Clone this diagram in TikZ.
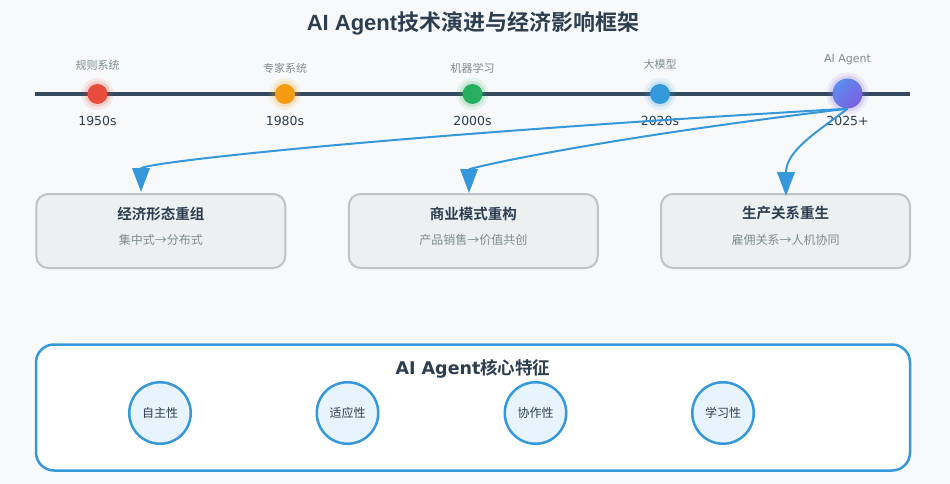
\documentclass[tikz,border=0pt]{standalone}
\usepackage{fontspec}
\setmainfont{DejaVu Sans}
\newfontfamily\cjk[BoldFont={Noto Sans CJK SC Bold}]{Noto Sans CJK SC}
\newfontfamily\titlelat{Liberation Sans}
\usetikzlibrary{arrows.meta}
\definecolor{bg}{HTML}{F8F9FA}
\definecolor{dark}{HTML}{2C3E50}
\definecolor{axis}{HTML}{34495E}
\definecolor{graytxt}{HTML}{7F8C8D}
\definecolor{boxfill}{HTML}{ECF0F1}
\definecolor{boxline}{HTML}{BDC3C7}
\definecolor{accent}{HTML}{3498DB}
\definecolor{featfill}{HTML}{E8F4FD}
\definecolor{cred}{HTML}{E74C3C}
\definecolor{corange}{HTML}{F39C12}
\definecolor{cgreen}{HTML}{27AE60}
\definecolor{cblue}{HTML}{3498DB}
\definecolor{agentA}{HTML}{5B8DEF}
\definecolor{agentB}{HTML}{7B5FE0}
\tikzset{
  toplabel/.style={text=graytxt, font=\cjk\fontsize{11}{13}\selectfont, inner sep=0pt},
  toplabellat/.style={text=graytxt, font=\fontsize{11}{13}\selectfont, inner sep=0pt},
  year/.style={text=dark, font=\fontsize{12.5}{15}\selectfont, inner sep=0pt},
  dot/.style={circle, minimum size=20pt, inner sep=0pt},
  stagebox/.style={draw=boxline, fill=boxfill, line width=2pt, rounded corners=12pt, minimum width=249pt, minimum height=74pt, inner sep=0pt},
  boxtitle/.style={text=dark, font=\cjk\bfseries\fontsize{14.5}{17}\selectfont, inner sep=0pt},
  boxsub/.style={text=graytxt, font=\cjk\fontsize{12}{14}\selectfont, inner sep=0pt},
  feat/.style={circle, draw=accent, fill=featfill, line width=2.5pt, minimum size=61.5pt, inner sep=0pt, text=dark, font=\cjk\fontsize{12}{14}\selectfont},
  flow/.style={draw=accent, line width=2pt, -{Triangle[width=17.5pt,length=24pt]}},
}
\begin{document}
\begin{tikzpicture}[x=1pt,y=-1pt]
\fill[bg] (0,0) rectangle (950,484);
\useasboundingbox (0,0) rectangle (950,484);

% title
\node[text=dark, inner sep=0pt] (title) at (473,23) {\fontsize{22}{26}\selectfont\bfseries\titlelat AI Agent\cjk 技术演进与经济影响框架};

% timeline
\coordinate (tl0) at (35,94);
\coordinate (tl1) at (910,94);
\draw[axis, line width=4pt] (tl0) -- (tl1);

% glows
\foreach \x/\c in {97.5/cred,285/corange,472.5/cgreen,660/cblue}{
  \fill[\c, opacity=.10] (\x,94) circle (16);
  \fill[\c, opacity=.15] (\x,94) circle (13);
}
\fill[agentB, opacity=.10] (847.5,93.5) circle (21);
\fill[agentB, opacity=.15] (847.5,93.5) circle (18);

% dots
\node[dot, fill=cred] (d1) at (97.5,94) {};
\node[dot, fill=corange] (d2) at (285,94) {};
\node[dot, fill=cgreen] (d3) at (472.5,94) {};
\node[dot, fill=cblue] (d4) at (660,94) {};
\node[dot, minimum size=30pt] (d5) at (847.5,93.5) {};
\shade[top color=agentA, bottom color=agentB, shading angle=45] (d5.center) circle (15);

% labels above
\node[toplabel] (l1) at (97.5,65) {规则系统};
\node[toplabel] (l2) at (285,68) {专家系统};
\node[toplabel] (l3) at (472.5,68) {机器学习};
\node[toplabel] (l4) at (660,64) {大模型};
\node[toplabellat] (l5) at (847.5,60) {AI Agent};

% years
\node[year] (y1) at (97.5,121) {1950s};
\node[year] (y2) at (285,121) {1980s};
\node[year] (y3) at (472.5,121) {2000s};
\node[year] (y4) at (660,121) {2020s};
\node[year] (y5) at (847.5,120.5) {2025+};

% stage boxes
\node[stagebox] (b1) at (160.75,231) {};
\node[stagebox] (b2) at (473.25,231) {};
\node[stagebox] (b3) at (785.5,231) {};
\node[boxtitle] (b1t) at (160.75,213.5) {经济形态重组};
\node[boxsub] (b1s) at (160.75,240) {集中式→分布式};
\node[boxtitle] (b2t) at (473.25,213.5) {商业模式重构};
\node[boxsub] (b2s) at (473.25,240) {产品销售→价值共创};
\node[boxtitle] (b3t) at (785.5,213.5) {生产关系重生};
\node[boxsub] (b3s) at (785.5,240) {雇佣关系→人机协同};

% arrow targets
\coordinate (t1) at (141,192);
\coordinate (t2) at (469,193);
\coordinate (t3) at (786,196);

% flows
\draw[flow] (d5.south) .. controls (376,136) and (141,163) .. (t1);
\draw[flow] (d5.south) .. controls (595,139) and (469,168) .. (t2);
\draw[flow] (d5.south) .. controls (820,130) and (786,150) .. (t3);

% features
\node[draw=accent, fill=white, line width=2.5pt, rounded corners=18pt, minimum width=874pt, minimum height=126pt, inner sep=0pt] (fbox) at (473,407.5) {};
\node[text=dark, inner sep=0pt] (ftitle) at (473,369) {\fontsize{17.5}{20}\selectfont\bfseries AI Agent\cjk 核心特征};
\node[feat] (f1) at (160,413) {自主性};
\node[feat] (f2) at (347.5,413) {适应性};
\node[feat] (f3) at (535.5,413) {协作性};
\node[feat] (f4) at (723,413) {学习性};
\end{tikzpicture}
\end{document}
